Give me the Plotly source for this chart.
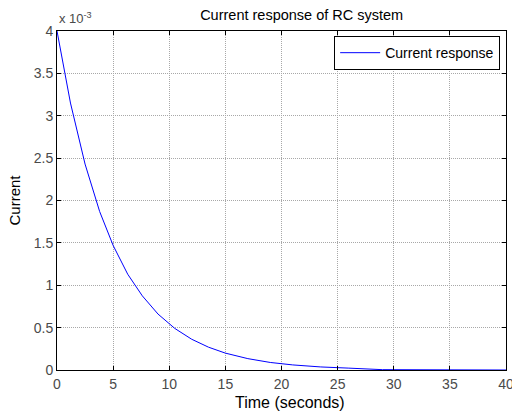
import plotly.graph_objects as go

# Time samples (seconds) and current values (x 10^-3 A)
time_s = [0, 1.2, 2.5, 3.8, 5.0, 6.3, 7.6, 9.0, 10.5, 12.0, 13.5, 15.0, 17.0, 19.0, 21.0, 23.5, 26.0, 29.0, 40.0]
current_mA = [4.0, 3.15, 2.43, 1.87, 1.47, 1.13, 0.875, 0.66, 0.49, 0.363, 0.269, 0.199, 0.134, 0.089, 0.060, 0.036, 0.022, 0.004, 0.0]

x_ticks = [0, 5, 10, 15, 20, 25, 30, 35, 40]
y_ticks = [0, 0.5, 1, 1.5, 2, 2.5, 3, 3.5, 4]
y_tick_text = ["0", "0.5", "1", "1.5", "2", "2.5", "3", "3.5", "4"]

FAM = "Liberation Sans, Arial, sans-serif"

fig = go.Figure()
fig.add_trace(go.Scatter(
    x=time_s, y=current_mA, mode="lines", name="Current response",
    line=dict(color="#0000ff", width=1),
))

tickfont = dict(family=FAM, size=14, color="#4a4a4a")

axis_common = dict(
    showline=True, linecolor="#000000", linewidth=1, mirror="ticks",
    ticks="inside", ticklen=4, tickcolor="#000000",
    showgrid=True, gridcolor="#a8a8a8", griddash="1px,1px", gridwidth=1,
    zeroline=False, tickfont=tickfont, automargin=False,
    ticklabeloverflow="allow",
)

fig.update_layout(
    width=512, height=412,
    paper_bgcolor="#ffffff", plot_bgcolor="#ffffff",
    margin=dict(l=57, r=6, t=31, b=42),
    font=dict(family=FAM, size=13, color="#000000"),
    title=dict(text="Current response of RC system", x=279 / 512, xanchor="center", xref="paper",
               y=1 - 15 / 412, yanchor="middle", font=dict(size=14.5, family=FAM, color="#000")),
    xaxis=dict(range=[0, 40], tickvals=x_ticks, ticklabelstandoff=1, **axis_common),
    yaxis=dict(range=[0, 4], tickvals=y_ticks, ticktext=y_tick_text, **axis_common),
    legend=dict(x=0.987, y=0.985, xanchor="right", yanchor="top",
                bordercolor="#000000", borderwidth=1, bgcolor="#ffffff",
                font=dict(size=14, color="#000", family=FAM), itemwidth=40,
                tracegroupgap=0),
    showlegend=True,
    annotations=[
        dict(text="x 10<sup>-3</sup>", xref="paper", yref="paper",
             x=0, y=1.0, xanchor="left", yanchor="bottom", yshift=3,
             showarrow=False, font=dict(size=13, color="#4a4a4a", family=FAM)),
        dict(text="Time (seconds)", xref="paper", yref="paper", x=0.5, y=0,
             xanchor="center", yanchor="middle", yshift=-32, xshift=8, showarrow=False,
             font=dict(size=16, color="#000", family=FAM)),
        dict(text="Current", xref="paper", yref="paper", x=0, y=0.5, textangle=-90,
             xanchor="center", yanchor="middle", xshift=-43, showarrow=False,
             font=dict(size=15, color="#000", family=FAM)),
    ],
)

fig.write_html("out.html", config={"displayModeBar": False},
               post_script="document.body.style.margin='0';document.body.style.padding='0';")
